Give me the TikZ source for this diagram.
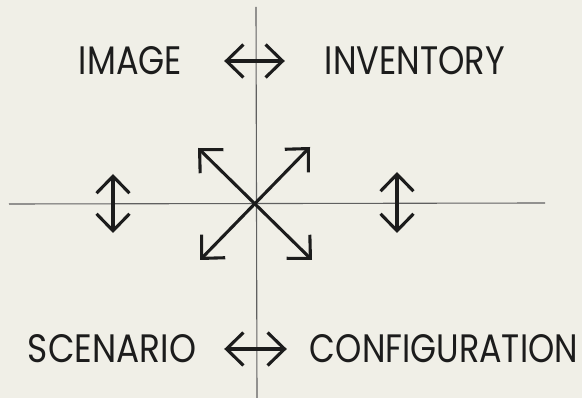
\documentclass[tikz,border=0pt]{standalone}
\usepackage{fontspec}
\newfontfamily\decofont{Poppins}
\usetikzlibrary{arrows.meta}
\definecolor{paper}{RGB}{240,239,231}
\definecolor{ink}{RGB}{28,28,28}
\newcommand{\lbl}[2]{\resizebox{#1}{28pt}{\decofont #2}}

\begin{document}
\begin{tikzpicture}[x=1pt,y=-1pt,
  axis/.style={draw=ink!70,line width=1.1pt},
  word/.style={inner sep=0pt,text=ink},
  twoway/.style={draw=ink,line width=3.1pt,{Straight Barb[length=17pt,width=33pt]}-{Straight Barb[length=17pt,width=33pt]}}]
\fill[paper] (0,0) rectangle (582,398);
\useasboundingbox (0,0) rectangle (582,398);
\coordinate (top) at (256,7);
\coordinate (bottom) at (257,398);
\coordinate (left) at (9,204);
\coordinate (right) at (545,203);
\draw[axis] (top) -- (bottom);
\draw[axis] (left) -- (right);
\node[word] (image) at (130.5,61) {\lbl{103pt}{IMAGE}};
\node[word] (inventory) at (415,61) {\lbl{180pt}{INVENTORY}};
\node[word] (scenario) at (112,349) {\lbl{168pt}{SCENARIO}};
\node[word] (configuration) at (444,349) {\lbl{268pt}{CONFIGURATION}};
\draw[twoway,shorten <=42pt,shorten >=40pt] (image) -- (inventory);
\draw[twoway,shorten <=28pt,shorten >=23pt] (scenario) -- (configuration);
\coordinate (l1) at (113,174);
\coordinate (l2) at (113,233);
\coordinate (r1) at (397,172);
\coordinate (r2) at (397,233);
\coordinate (d1) at (198,148);
\coordinate (d2) at (312,260);
\coordinate (d3) at (310,147);
\coordinate (d4) at (200,260);
\draw[twoway] (l1) -- (l2);
\draw[twoway] (r1) -- (r2);
\draw[twoway] (d1) -- (d2);
\draw[twoway] (d3) -- (d4);
\end{tikzpicture}
\end{document}
